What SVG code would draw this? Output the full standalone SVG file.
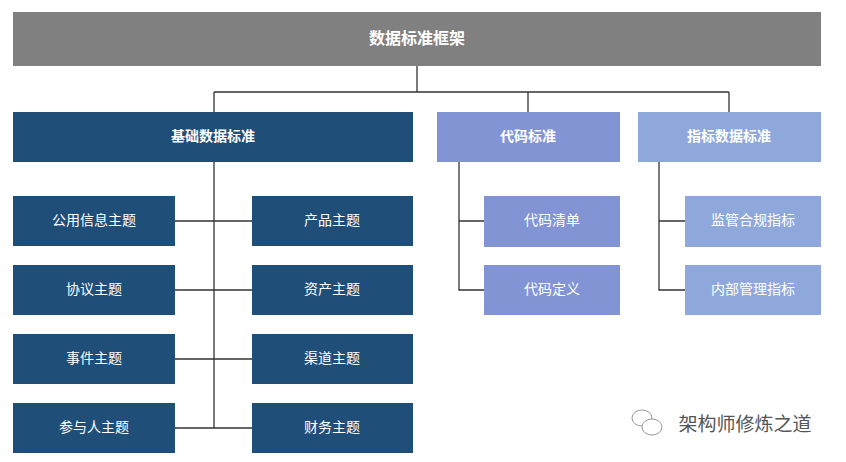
<svg xmlns="http://www.w3.org/2000/svg" width="846" height="462" viewBox="0 0 846 462">
<style>
text{font-family:"Noto Sans CJK SC","Liberation Sans",sans-serif;font-size:14px;fill:#fff;text-anchor:middle;dominant-baseline:central}
.b{font-weight:bold}
.dk{fill:#1F4E79}
.cd{fill:#8394D5}
.zb{fill:#8EA8DB}
.ln{stroke:#333;stroke-width:1.3;fill:none}
</style>
<rect width="846" height="462" fill="#fff"/>
<g id="connectors" class="ln">
<path d="M417 66V92M214 92H729M214 92V112M528 92V112M729 92V112"/>
<path d="M214 162V428M175 221H252M175 290H252M175 359H252M175 428H252"/>
<path d="M459 162V290H484M459 221H484"/>
<path d="M659 162V290H685M659 221H685"/>
</g>
<g id="root"><rect x="13" y="12" width="808" height="54" fill="#808080"/><text class="b" x="417" y="37" style="font-size:16px">数据标准框架</text></g>
<g id="jc"><rect class="dk" x="13" y="112" width="400" height="50"/><text class="b" x="213" y="135">基础数据标准</text></g>
<g id="dm"><rect class="cd" x="437" y="112" width="183" height="50"/><text class="b" x="528" y="135">代码标准</text></g>
<g id="zb"><rect class="zb" x="638" y="112" width="183" height="50"/><text class="b" x="729" y="135">指标数据标准</text></g>
<g id="n1"><rect class="dk" x="13" y="196" width="162" height="50"/><text x="94" y="219">公用信息主题</text></g>
<g id="n2"><rect class="dk" x="13" y="265" width="162" height="50"/><text x="94" y="288">协议主题</text></g>
<g id="n3"><rect class="dk" x="13" y="334" width="162" height="50"/><text x="94" y="357">事件主题</text></g>
<g id="n4"><rect class="dk" x="13" y="403" width="162" height="50"/><text x="94" y="426">参与人主题</text></g>
<g id="n5"><rect class="dk" x="252" y="196" width="161" height="50"/><text x="332" y="219">产品主题</text></g>
<g id="n6"><rect class="dk" x="252" y="265" width="161" height="50"/><text x="332" y="288">资产主题</text></g>
<g id="n7"><rect class="dk" x="252" y="334" width="161" height="50"/><text x="332" y="357">渠道主题</text></g>
<g id="n8"><rect class="dk" x="252" y="403" width="161" height="50"/><text x="332" y="426">财务主题</text></g>
<g id="d1"><rect class="cd" x="484" y="196" width="136" height="51"/><text x="552" y="219">代码清单</text></g>
<g id="d2"><rect class="cd" x="484" y="265" width="136" height="50"/><text x="552" y="288">代码定义</text></g>
<g id="z1"><rect class="zb" x="685" y="196" width="136" height="51"/><text x="753" y="219">监管合规指标</text></g>
<g id="z2"><rect class="zb" x="685" y="265" width="136" height="50"/><text x="753" y="288">内部管理指标</text></g>
<g id="wm">
<ellipse cx="642" cy="418" rx="10" ry="8" fill="#fff" stroke="#999"/>
<ellipse cx="652" cy="427" rx="10" ry="8" fill="#fff" stroke="#999"/>
<text x="745" y="422" style="fill:#555;font-size:19px">架构师修炼之道</text>
</g>
</svg>
